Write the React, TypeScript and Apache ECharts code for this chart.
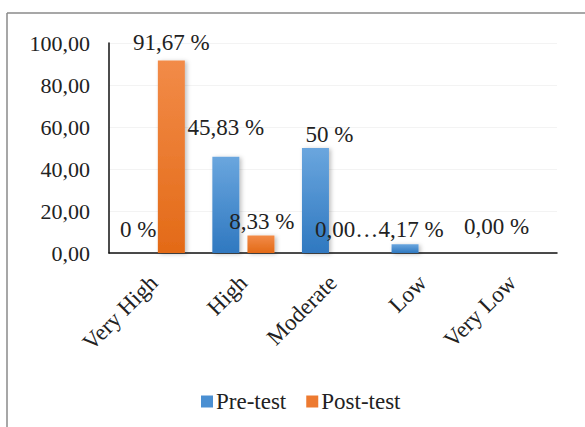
import React, { useEffect, useRef } from "react";
import * as echarts from "echarts";

const categories = ["Very High", "High", "Moderate", "Low", "Very Low"];
const preTest = [0, 45.83, 50, 4.17, 0];
const postTest = [91.67, 8.33, 0, 0, 0];
const preLabels = ["0 %", "45,83 %", "50 %", "4,17 %", "0,00 %"];
const postLabels = ["91,67 %", "8,33 %", "0,00…", "", ""];
const yTicks = [0, 20, 40, 60, 80, 100];

const FONT = "'Liberation Serif', 'Times New Roman', serif";
const FS = 22;
const FS_BIG = 23;

export default function App() {
  const ref = useRef<HTMLDivElement>(null);
  useEffect(() => {
    if (!ref.current) return;
    const chart = echarts.init(ref.current, undefined, { renderer: "svg" });
    const preOffsets: Record<number, number[]> = { 0: [2, -6], 1: [0, -12], 2: [14, 4], 3: [6, 3], 4: [2, -9] };
    const postOffsets: Record<number, number[]> = { 0: [0, 0], 1: [1, 3], 2: [-4, -6] };
    const blue = new echarts.graphic.LinearGradient(0, 0, 0, 1, [
      { offset: 0, color: "#6aa6de" },
      { offset: 1, color: "#2f78c0" },
    ]);
    const orange = new echarts.graphic.LinearGradient(0, 0, 0, 1, [
      { offset: 0, color: "#f28b48" },
      { offset: 1, color: "#e36a17" },
    ]);
    chart.setOption({
      animation: false,
      textStyle: { fontFamily: FONT },
      graphic: [
        { type: "line", shape: { x1: 7, y1: 13, x2: 585, y2: 13 }, style: { stroke: "#8a8a8a", lineWidth: 1.5 } },
        { type: "line", shape: { x1: 7, y1: 13, x2: 7, y2: 427 }, style: { stroke: "#8a8a8a", lineWidth: 1.5 } },
      ],
      legend: {
        top: 385,
        left: 196,
        itemWidth: 12,
        itemHeight: 12,
        itemGap: 20,
        icon: "rect",
        textStyle: { fontFamily: FONT, fontSize: FS_BIG, color: "#222", padding: [0, 0, 0, -2] },
        data: [
          { name: "Pre-test", itemStyle: { color: "#4a8fd2" } },
          { name: "Post-test", itemStyle: { color: "#ed7a30" } },
        ],
      },
      grid: { left: 109, right: 28, top: 43, bottom: 174 },
      xAxis: {
        type: "category",
        data: categories,
        axisLine: { lineStyle: { color: "#111", width: 1.5 } },
        axisTick: { show: false },
        axisLabel: { rotate: 45, fontFamily: FONT, fontSize: FS_BIG, color: "#222", margin: 26, interval: 0 },
      },
      yAxis: {
        type: "value",
        min: yTicks[0],
        max: yTicks[yTicks.length - 1],
        interval: 20,
        axisLine: { show: true, lineStyle: { color: "#111", width: 1.5 } },
        axisTick: { show: false },
        splitLine: { show: true, lineStyle: { color: "#f3f3f3" } },
        axisLabel: {
          fontFamily: FONT,
          fontSize: FS,
          color: "#222",
          margin: 19,
          formatter: (v: number) => v.toFixed(2).replace(".", ","),
        },
      },
      series: [
        {
          name: "Pre-test",
          type: "bar",
          barWidth: 27,
          barGap: "30%",
          itemStyle: { color: blue, shadowColor: "rgba(0,0,0,0.25)", shadowBlur: 4, shadowOffsetX: 2, shadowOffsetY: 1 },
          data: preTest.map((v, i) => ({
            value: v,
            label: {
              show: preLabels[i] !== "",
              position: "top",
              distance: 6,
              offset: preOffsets[i] || [0, 0],
              formatter: () => preLabels[i],
            },
          })),
          label: { fontFamily: FONT, fontSize: FS_BIG, color: "#222" },
        },
        {
          name: "Post-test",
          type: "bar",
          barWidth: 27,
          itemStyle: { color: orange, shadowColor: "rgba(0,0,0,0.25)", shadowBlur: 4, shadowOffsetX: 2, shadowOffsetY: 1 },
          data: postTest.map((v, i) => ({
            value: v,
            label: {
              show: postLabels[i] !== "",
              position: "top",
              distance: 6,
              offset: postOffsets[i] || [0, 0],
              formatter: () => postLabels[i],
            },
          })),
          label: { fontFamily: FONT, fontSize: FS_BIG, color: "#222" },
        },
      ],
    });
    return () => chart.dispose();
  }, []);
  return (
    <div
      ref={ref}
      style={{ position: "fixed", left: 0, top: 0, width: 585, height: 427, background: "#fff" }}
    />
  );
}
